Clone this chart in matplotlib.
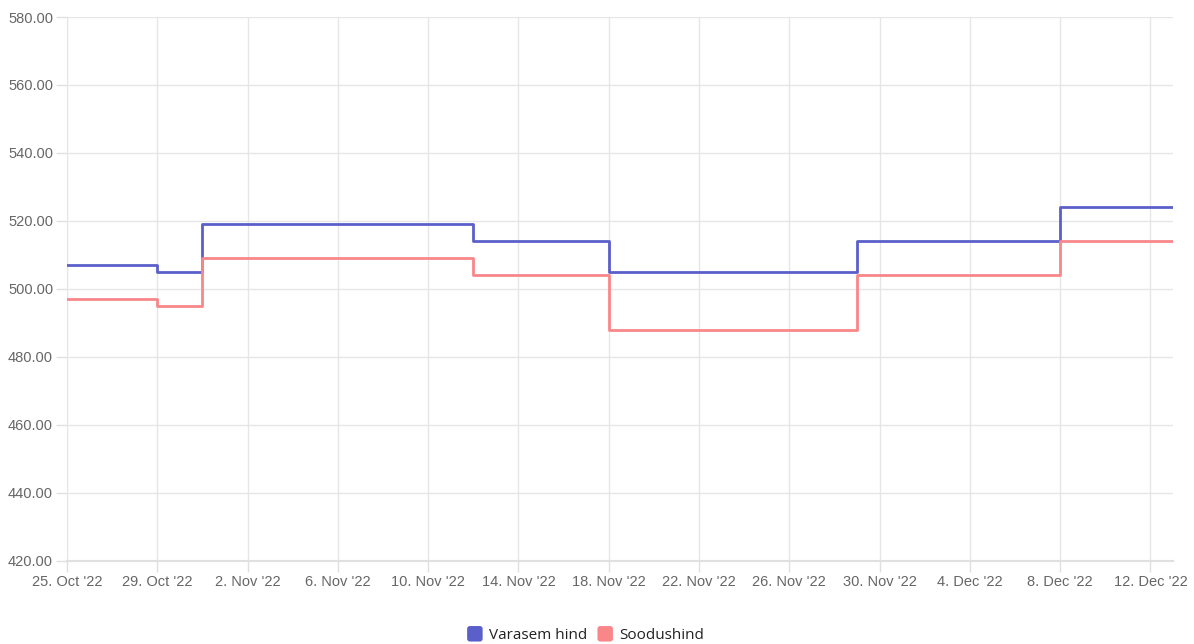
import matplotlib
matplotlib.use("Agg")
import matplotlib.pyplot as plt
from matplotlib.patches import FancyBboxPatch, Patch
from matplotlib.legend_handler import HandlerPatch
import numpy as np
import datetime as dt

dates = ["2022-10-25", "2022-10-29", "2022-10-31", "2022-11-12", "2022-11-18",
         "2022-11-29", "2022-12-08", "2022-12-13"]
varasem = [507, 505, 519, 514, 505, 514, 524, 524]
soodus = [497, 495, 509, 504, 488, 504, 514, 514]
series_names = ["Varasem hind", "Soodushind"]
colors = ["#5b5fc9", "#f9878a"]
yticks = np.arange(420, 581, 20)

x = [dt.datetime.strptime(d, "%Y-%m-%d") for d in dates]

fig = plt.figure(figsize=(11.94, 6.44), dpi=100)
ax = fig.add_axes([0.0561, 0.1289, 0.9263, 0.8447])

for vals, c, name in zip([varasem, soodus], colors, series_names):
    ax.step(x, vals, where="post", color=c, lw=2, label=name, zorder=3)

ax.set_ylim(420, 580)
ax.set_yticks(yticks)
ax.set_yticklabels([f"{v:.2f}" for v in yticks], family="Liberation Sans")
ax.set_xlim(x[0], x[-1])
ticks = [x[0] + dt.timedelta(days=4 * i) for i in range(13)]
ax.set_xticks(ticks)
ax.set_xticklabels([f"{t.day}. {t.strftime('%b')} '{t.strftime('%y')}" for t in ticks],
                   family="Liberation Sans")

ax.grid(True, color="#e6e6e6", lw=1, zorder=0)
for s in ["top", "right"]:
    ax.spines[s].set_visible(False)
ax.spines["left"].set_color("#e6e6e6")
ax.spines["bottom"].set_color("#e0e0e0")
ax.spines["bottom"].set_linewidth(1.5)
ax.tick_params(axis="both", colors="#e0e0e0", labelcolor="#666666", labelsize=10.5, length=8, width=1)
ax.tick_params(axis="y", pad=2)
ax.tick_params(axis="x", pad=2)

class RoundHandler(HandlerPatch):
    def create_artists(self, legend, orig_handle, xdescent, ydescent, width, height, fontsize, trans):
        s = height * 1.45
        p = FancyBboxPatch((width - s - xdescent, -ydescent + (height - s) / 2), s, s,
                           boxstyle="round,pad=0,rounding_size=2",
                           facecolor=orig_handle.get_facecolor(), edgecolor="none", transform=trans)
        return [p]

handles = [Patch(facecolor=c) for c in colors]
fig.legend(handles, series_names, loc="center", bbox_to_anchor=(0.4905, 0.013), ncol=2, frameon=False,
           handler_map={Patch: RoundHandler()}, handlelength=1.0, handletextpad=0.4, columnspacing=0.7,
           prop={"family": "Open Sans", "size": 11}, labelcolor="#222222")

fig.savefig("out.png", dpi=100)
